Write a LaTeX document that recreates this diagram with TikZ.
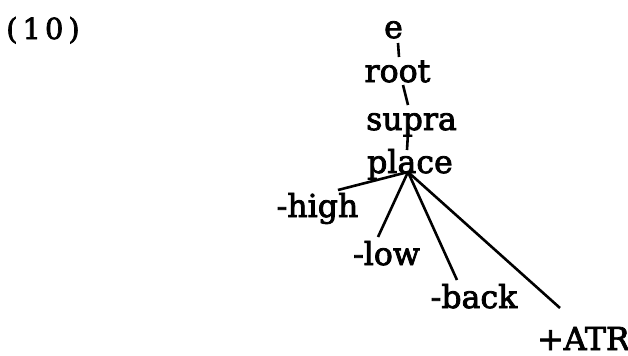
\documentclass[tikz,border=0pt]{standalone}
\usepackage{fontspec}
\setmainfont{DejaVu Serif}[FakeBold=2.5]
\usetikzlibrary{calc}

\tikzset{
  feat/.style={font=\fontsize{15.8}{18}\selectfont, inner sep=0pt, outer sep=0pt, anchor=base},
  branch/.style={line width=1.3pt}
}

\begin{document}
\begin{tikzpicture}[x=0.5pt, y=-0.5pt]
\useasboundingbox (0,0) rectangle (628,355);

% --- Example number
\node[inner sep=0pt, outer sep=0pt, anchor=base, font=\fontsize{14.5}{16}\selectfont] (exnum) at (43,39)
  {(\hspace{2.5pt}1\hspace{2pt}0\hspace{2.5pt})};

% --- Spine of the tree
\node[feat] (e) at (393.5,38) {e};
\node[feat] (root) at ($(e.base)+(4,44)$) {root};
\node[feat] (supra) at ($(root.base)+(14,48)$) {supra};
\node[feat] (place) at ($(supra.base)+(-1.5,43)$) {place};

% --- Dependents of place
\node[feat] (high) at ($(place.base)+(-92.5,44)$) {-high};
\node[feat] (low) at ($(place.base)+(-23.5,92)$) {-low};
\node[feat] (back) at ($(place.base)+(64,135)$) {-back};
\node[feat] (atr) at ($(place.base)+(173.5,177)$) {+ATR};

% --- Branches
\draw[branch] ($(e.base)+(4.5,5)$) -- ($(root.base)+(1.5,-25)$);
\draw[branch] ($(root.base)+(5.5,3)$) -- ($(supra.base)+(-3.5,-25)$);
\draw[branch] ($(supra.base)+(-3.5,3)$) -- ($(place.base)+(-3,-23)$);

\coordinate (fan) at ($(place.base)+(-2,-1)$);
\draw[branch] (fan) -- ($(high.base)+(20.5,-27)$);
\draw[branch] (fan) -- ($(low.base)+(-8.5,-28)$);
\draw[branch] (fan) -- ($(back.base)+(-17,-28)$);
\draw[branch] (fan) -- ($(atr.base)+(-23.5,-42)$);

\end{tikzpicture}
\end{document}
